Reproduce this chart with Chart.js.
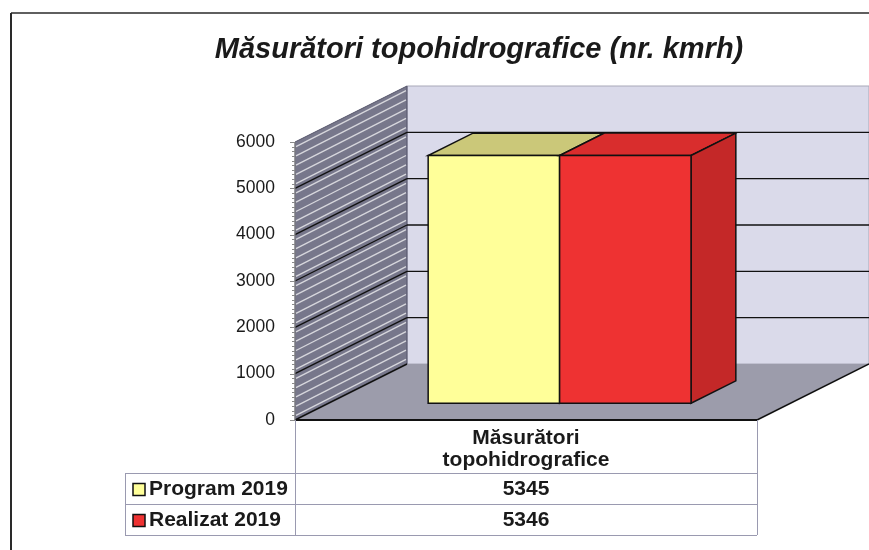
<!DOCTYPE html>
<html lang="ro">
<head>
<meta charset="UTF-8">
<title>Măsurători topohidrografice</title>
<script src="https://cdn.jsdelivr.net/npm/chart.js"></script>
<style>
  html, body { margin: 0; padding: 0; background: #fff; }
  #wrap { width: 869px; height: 550px; }
</style>
</head>
<body>
<div id="wrap"><canvas id="chart" width="869" height="550"></canvas></div>
<script>
// data
var categories = [['Măsurători', 'topohidrografice']];
var seriesNames = ['Program 2019', 'Realizat 2019'];
var program2019 = [5345];
var realizat2019 = [5346];
var yTicks = [0, 1000, 2000, 3000, 4000, 5000, 6000];
var chartTitle = 'Măsurători topohidrografice (nr. kmrh)';

// look
var FONT = '"Liberation Sans", Arial, sans-serif';
var seriesColors = [
    { front: '#ffff99', top: '#cbc879', side: '#c8c46e' },
    { front: '#ee3232', top: '#d92d2d', side: '#c42828' }
];
var depth = { dx: 112, dy: -56 };   // oblique offset of the back wall
var barDepth = [0.3, 0.7];          // bars sit between these depth fractions

var chart3d = {
    id: 'chart3d',
    afterDraw: function (chart) {
        var ctx = chart.ctx;
        var ys = chart.scales.y;
        var a = chart.chartArea;
        var x0 = a.left, x1 = a.right;
        var y = function (v) { return ys.getPixelForValue(v); };
        var yMin = yTicks[0], yMax = yTicks[yTicks.length - 1];

        function poly(pts, fill, stroke, lw) {
            ctx.beginPath();
            ctx.moveTo(pts[0][0], pts[0][1]);
            for (var i = 1; i < pts.length; i++) ctx.lineTo(pts[i][0], pts[i][1]);
            ctx.closePath();
            if (fill) { ctx.fillStyle = fill; ctx.fill(); }
            if (stroke) { ctx.strokeStyle = stroke; ctx.lineWidth = lw || 1; ctx.stroke(); }
        }
        function line(ax, ay, bx, by, color, lw) {
            ctx.beginPath();
            ctx.moveTo(ax, ay);
            ctx.lineTo(bx, by);
            ctx.strokeStyle = color;
            ctx.lineWidth = lw || 1;
            ctx.stroke();
        }

        ctx.save();

        // outer frame
        line(11, 13, 11, 550, '#2a2a2a', 2);
        line(11, 13, 869, 13, '#2a2a2a', 1.5);

        // title
        ctx.fillStyle = '#1a1a1a';
        ctx.font = 'italic bold 29px ' + FONT;
        ctx.textAlign = 'center';
        ctx.textBaseline = 'alphabetic';
        ctx.fillText(chartTitle, 479, 58);

        // back wall
        poly([[x0 + depth.dx, y(yMax) + depth.dy], [x1 + depth.dx, y(yMax) + depth.dy],
              [x1 + depth.dx, y(yMin) + depth.dy], [x0 + depth.dx, y(yMin) + depth.dy]],
             '#dadaea', '#a8a8b8', 1);

        // side wall with stripes
        poly([[x0, y(yMin)], [x0 + depth.dx, y(yMin) + depth.dy],
              [x0 + depth.dx, y(yMax) + depth.dy], [x0, y(yMax)]], '#77778b', '#55556a', 1);
        for (var s = yMin + 100; s < yMax; s += 200) {
            line(x0 + 1, y(s), x0 + depth.dx - 1, y(s) + depth.dy, 'rgba(255,255,255,0.7)', 1.4);
        }

        // floor
        poly([[x0, y(yMin)], [x1, y(yMin)], [x1 + depth.dx, y(yMin) + depth.dy],
              [x0 + depth.dx, y(yMin) + depth.dy]], '#9c9cab');

        // gridlines
        for (var i = 1; i < yTicks.length - 1; i++) {
            var v = yTicks[i];
            line(x0, y(v), x0 + depth.dx, y(v) + depth.dy, '#111', 1.3);
            line(x0 + depth.dx, y(v) + depth.dy, 869, y(v) + depth.dy, '#111', 1.3);
        }
        line(x0, y(yMin), x0 + depth.dx, y(yMin) + depth.dy, '#111', 1.5);
        line(x0, y(yMin), x1, y(yMin), '#111', 1.8);
        line(x1, y(yMin), x1 + depth.dx, y(yMin) + depth.dy, '#111', 1.5);

        // bars as boxes
        chart.data.datasets.forEach(function (ds, di) {
            var meta = chart.getDatasetMeta(di);
            meta.data.forEach(function (bar) {
                var c = seriesColors[di];
                var fx = depth.dx * barDepth[0], fy = depth.dy * barDepth[0];
                var bx = depth.dx * barDepth[1], by = depth.dy * barDepth[1];
                var l = bar.x - bar.width / 2, r = bar.x + bar.width / 2;
                var t = bar.y, b = bar.base;
                // top face
                poly([[l + fx, t + fy], [r + fx, t + fy], [r + bx, t + by], [l + bx, t + by]], c.top, '#111', 1.5);
                // side face
                poly([[r + fx, t + fy], [r + bx, t + by], [r + bx, b + by], [r + fx, b + fy]], c.side, '#111', 1.5);
                // front face
                poly([[l + fx, t + fy], [r + fx, t + fy], [r + fx, b + fy], [l + fx, b + fy]], c.front, '#111', 1.5);
            });
        });

        // front axis with minor ticks
        line(x0, y(yMax), x0, y(yMin), '#8a8a8a', 1);
        for (var m = yMin; m <= yMax; m += 100) {
            var len = (m % 1000 === 0) ? 5 : 3;
            line(x0 - len, Math.round(y(m)) + 0.5, x0, Math.round(y(m)) + 0.5, '#8a8a8a', 1);
        }

        // data table
        var rowTop = y(yMin);
        var rows = [473, 504, 535];
        var leftX = 125;
        var grid = '#9a9ab0';
        rows.forEach(function (ry) { line(leftX, ry + 0.5, x1, ry + 0.5, grid, 1); });
        line(leftX + 0.5, rows[0], leftX + 0.5, rows[2], grid, 1);
        line(x0 + 0.5, rowTop, x0 + 0.5, rows[2], grid, 1);
        line(x1 + 0.5, rowTop, x1 + 0.5, rows[2], grid, 1);

        ctx.fillStyle = '#1a1a1a';
        ctx.font = 'bold 21px ' + FONT;
        ctx.textAlign = 'center';
        ctx.textBaseline = 'middle';
        var cx = (x0 + x1) / 2;
        var lbl = categories[0];
        ctx.fillText(lbl[0], cx, 438);
        ctx.fillText(lbl[1], cx, 460);

        var seriesVals = [program2019, realizat2019];
        seriesNames.forEach(function (name, si) {
            var my = (rows[si] + rows[si + 1]) / 2 + 1;
            ctx.fillStyle = seriesColors[si].front;
            ctx.fillRect(133, my - 6, 12, 12);
            ctx.strokeStyle = '#111';
            ctx.lineWidth = 1.5;
            ctx.strokeRect(133, my - 6, 12, 12);
            ctx.fillStyle = '#1a1a1a';
            ctx.textAlign = 'left';
            ctx.fillText(name, 149, my);
            ctx.textAlign = 'center';
            ctx.fillText(String(seriesVals[si][0]), cx, my);
        });

        ctx.restore();
    }
};

new Chart(document.getElementById('chart'), {
    type: 'bar',
    data: {
        labels: categories,
        datasets: [
            { label: seriesNames[0], data: program2019 },
            { label: seriesNames[1], data: realizat2019 }
        ]
    },
    options: {
        responsive: false,
        animation: false,
        events: [],
        layout: { padding: { left: 11, right: 112, top: 142, bottom: 130 } },
        datasets: {
            bar: {
                backgroundColor: 'rgba(0,0,0,0)',
                borderWidth: 0,
                categoryPercentage: 0.569,
                barPercentage: 1
            }
        },
        plugins: {
            legend: { display: false },
            tooltip: { enabled: false },
            title: { display: false }
        },
        scales: {
            x: { display: false },
            y: {
                min: yTicks[0],
                max: yTicks[yTicks.length - 1],
                afterFit: function (scale) { scale.width = 284; },
                afterBuildTicks: function (scale) {
                    scale.ticks = yTicks.map(function (v) { return { value: v }; });
                },
                grid: { display: false, drawTicks: false },
                border: { display: false },
                ticks: {
                    padding: 20,
                    color: '#1a1a1a',
                    font: { family: FONT, size: 17.5 },
                    callback: function (v) { return String(v); }
                }
            }
        }
    },
    plugins: [chart3d]
});
</script>
</body>
</html>
